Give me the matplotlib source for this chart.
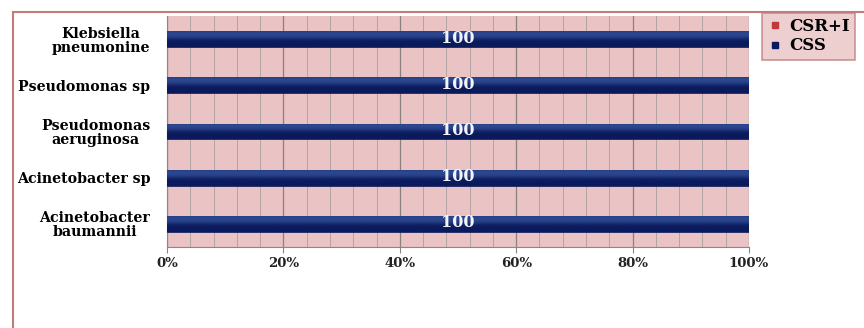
import numpy as np
import matplotlib
matplotlib.use('Agg')
import matplotlib.pyplot as plt
from matplotlib.patches import Rectangle
from matplotlib.lines import Line2D

# data (bottom to top)
organisms = ['Acinetobacter\nbaumannii', 'Acinetobacter sp', 'Pseudomonas\naeruginosa',
             'Pseudomonas sp', 'Klebsiella\npneumonine']
css = [100, 100, 100, 100, 100]
csr_i = [0, 0, 0, 0, 0]
xticks = [0, 20, 40, 60, 80, 100]
xtick_labels = ['0%', '20%', '40%', '60%', '80%', '100%']

plt.rcParams['font.family'] = ['DejaVu Serif']
plt.rcParams['font.weight'] = 'bold'

fig = plt.figure(figsize=(8.64, 3.28), dpi=100)
fig.patch.set_facecolor('white')

# outer border of the chart
fig.patches.append(Rectangle((13/864, -0.1), 1.2, 1 - 12/328 + 0.1, transform=fig.transFigure,
                             fill=False, edgecolor='#c27b7d', lw=1.5, zorder=0))

ax = fig.add_axes([167/864, 1 - 247/328, (749 - 167)/864, (247 - 16)/328])
ax.set_facecolor('#eac3c5')

y = np.arange(len(organisms))
total = np.array(css) + np.array(csr_i)
css_pct = np.array(css) / total * 100
csr_pct = np.array(csr_i) / total * 100

bars = ax.barh(y, css_pct, height=0.34, color='#0a1a5c', edgecolor='#0a1a5c', lw=0.5, zorder=3)
ax.barh(y, csr_pct, left=css_pct, height=0.34, color='#c0393f', zorder=3)

# glossy look: slightly lighter upper half on the bars
grad = np.array([[0.0], [0.0], [0.0], [0.05], [0.25], [0.6], [0.75], [0.85], [0.7]])
cmap = matplotlib.colors.LinearSegmentedColormap.from_list('g', ['#0a1a5c', '#34529c'])
for b in bars:
    x0, y0, w, h = b.get_x(), b.get_y(), b.get_width(), b.get_height()
    im = ax.imshow(grad, extent=[x0, x0 + w, y0, y0 + h], origin='lower', cmap=cmap,
                   aspect='auto', interpolation='bicubic', zorder=3.5, vmin=0, vmax=1)
    im.set_clip_path(b)

for yi, v in zip(y, css):
    ax.text(50, yi + 0.02, str(v), color='#f4f4f8', ha='center', va='center',
            fontsize=11.5, fontweight='bold', zorder=5)

ax.set_xlim(0, 100)
ax.set_ylim(-0.5, len(organisms) - 0.5)
ax.set_xticks(xticks)
ax.set_xticklabels(xtick_labels, fontsize=9.5, fontweight='bold', color='#222222')
ax.set_xticks(np.arange(0, 101, 4), minor=True)
ax.set_yticks(y)
ax.set_yticklabels(organisms, fontsize=10.2, fontweight='bold', ha='right',
                   multialignment='center', linespacing=1.0)
ax.tick_params(axis='y', length=0, pad=12)
ax.tick_params(axis='x', which='major', length=4, color='#888888', pad=3)
ax.tick_params(axis='x', which='minor', length=0)
ax.grid(axis='x', which='major', color='#8a8080', lw=0.9, zorder=1)
ax.grid(axis='x', which='minor', color='#b4a4a6', lw=0.7, zorder=1)
ax.set_axisbelow(True)
for s in ['top', 'right']:
    ax.spines[s].set_visible(False)
for s in ['left', 'bottom']:
    ax.spines[s].set_color('#888888')

handles = [Line2D([], [], marker='s', ls='', color='#c0393f', markersize=5),
           Line2D([], [], marker='s', ls='', color='#0a1a5c', markersize=5)]
leg = fig.legend(handles, ['CSR+I', 'CSS'], loc='upper left',
                 bbox_to_anchor=(762/864, 1 - 13/328), frameon=True,
                 fancybox=False, handlelength=0.9, handletextpad=0.45, borderpad=0.3,
                 labelspacing=0.15, borderaxespad=0, prop={'weight': 'bold', 'size': 12})
leg.get_frame().set_facecolor('#eac3c5')
leg.get_frame().set_edgecolor('#c27b7d')
leg.get_frame().set_linewidth(1.2)

fig.savefig('out.png', dpi=100)
